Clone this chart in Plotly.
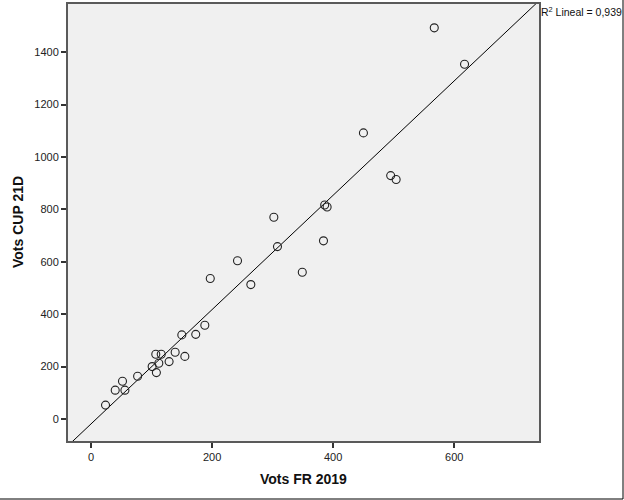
import numpy as np
import plotly.graph_objects as go

# values
vots_fr_2019 = [24, 40, 52, 56, 77, 101, 107, 108, 116, 112,
                129, 139, 155, 150, 173, 188, 197, 242, 264, 302,
                308, 349, 384, 386, 390, 450, 495, 504, 567, 617]
vots_cup_21d = [53, 110, 144, 110, 163, 200, 247, 177, 247, 213,
                219, 255, 239, 321, 323, 358, 536, 604, 513, 770,
                658, 560, 680, 817, 809, 1092, 929, 914, 1493, 1354]
x_ticks = [0, 200, 400, 600]
y_ticks = [0, 200, 400, 600, 800, 1000, 1200, 1400]
r2_label = "R<sup>2</sup> Lineal = 0,939"

x_range = [-38, 740]
y_range = [-84, 1584]

# linear fit line across the whole axis
slope, intercept = np.polyfit(vots_fr_2019, vots_cup_21d, 1)
fit_x = np.array(x_range)
fit_y = slope * fit_x + intercept

font_family = "Liberation Sans, Arial, sans-serif"
frame_col = "#5a5a5a"

fig = go.Figure()
fig.add_trace(go.Scatter(x=fit_x, y=fit_y, mode="lines",
                         line=dict(color="black", width=1), hoverinfo="skip"))
fig.add_trace(go.Scatter(x=vots_fr_2019, y=vots_cup_21d, mode="markers",
                         marker=dict(symbol="circle-open", size=8, color="#222",
                                     line=dict(width=1.1))))

axis_common = dict(
    showgrid=False, zeroline=False, automargin=False,
    showline=True, linecolor=frame_col, linewidth=2, mirror=True,
    ticks="outside", ticklen=5, tickwidth=1.5, tickcolor="#333",
    tickfont=dict(family=font_family, size=11, color="#222"),
)

fig.update_xaxes(range=x_range, tickvals=x_ticks, **axis_common)
fig.update_yaxes(range=y_range, tickvals=y_ticks, **axis_common)

# plot area in pixels
pl, pr, pt, pb = 68, 539, 4, 441
pw, ph = pr - pl, pb - pt

def px_x(p):
    return (p - pl) / pw

def px_y(p):
    return (pb - p) / ph

title_font = dict(family=font_family, size=14, color="#111")
fig.add_annotation(x=px_x(303), y=px_y(479), xref="paper", yref="paper",
                   xanchor="center", yanchor="middle",
                   text="<b>Vots FR 2019</b>", showarrow=False, font=title_font)
fig.add_annotation(x=px_x(18), y=px_y(222), xref="paper", yref="paper",
                   xanchor="center", yanchor="middle",
                   text="<b>Vots CUP 21D</b>", showarrow=False, textangle=-90,
                   font=title_font)

fig.add_annotation(x=px_x(539), y=px_y(3), xref="paper", yref="paper",
                   xanchor="left", yanchor="top",
                   text=r2_label, showarrow=False,
                   font=dict(family=font_family, size=10.5, color="#111"))

# outer border on the right and bottom of the picture
fig.add_shape(type="line", xref="paper", yref="paper",
              x0=px_x(623), x1=px_x(623), y0=px_y(499), y1=px_y(0),
              line=dict(color="black", width=1))
fig.add_shape(type="line", xref="paper", yref="paper",
              x0=px_x(0), x1=px_x(623), y0=px_y(499), y1=px_y(499),
              line=dict(color="black", width=1))

fig.update_layout(
    width=624, height=500,
    margin=dict(l=pl, r=624 - pr, t=pt, b=500 - pb),
    plot_bgcolor="#f0f0f0", paper_bgcolor="white",
    showlegend=False,
)

# drop the default page margin so the figure sits at the window's corner
fig.write_html("out.html",
               config={"displayModeBar": False},
               post_script="document.body.style.margin='0';"
                           "document.documentElement.style.overflow='hidden';")
